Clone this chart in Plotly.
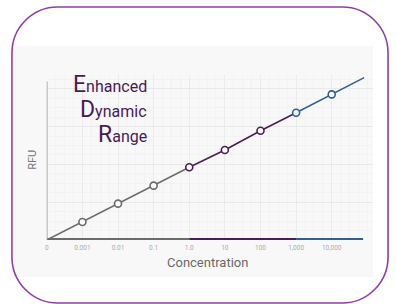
import plotly.graph_objects as go

# ---- data ----
conc_labels = ["0", "0.001", "0.01", "0.1", "1.0", "10", "100", "1,000", "10,000"]
conc_pos = [0, 1, 2, 3, 4, 5, 6, 7, 8]
rfu = [0, 1.0, 2.02, 3.02, 4.04, 5.0, 6.07, 7.07, 8.09]
line_end_pos = 8.91
line_end_rfu = 9.02

seg_names = ["standard", "enhanced", "extended"]
seg_colors = ["#6b6b6b", "#4d1b57", "#2f5f94"]
seg_start = [0, 4, 7]   # index into conc_pos where each range begins
seg_stop = [4, 7, 8]    # index where each range ends
axis_bar_end = 8.88

W, H = 396, 304


def px(x):
    return x / W


def py(y):
    return 1 - y / H


fig = go.Figure()

# colored concentration bar along the x axis
for i in range(3):
    x0 = conc_pos[seg_start[i]]
    x1 = conc_pos[seg_stop[i]] if i < 2 else axis_bar_end
    fig.add_trace(go.Scatter(x=[x0, x1], y=[0, 0], mode="lines",
                             line=dict(color=seg_colors[i], width=4),
                             hoverinfo="skip", showlegend=False, cliponaxis=False))

# response line segments
for i in range(3):
    a, b = seg_start[i], seg_stop[i]
    xs = conc_pos[a:b + 1]
    ys = rfu[a:b + 1]
    if i == 2:
        xs = xs + [line_end_pos]
        ys = ys + [line_end_rfu]
    fig.add_trace(go.Scatter(x=xs, y=ys, mode="lines",
                             line=dict(color=seg_colors[i], width=1.5),
                             showlegend=False, cliponaxis=False))

# markers
mcol = []
for j in range(1, len(conc_pos)):
    if j < 4:
        mcol.append(seg_colors[0])
    elif j < 7:
        mcol.append(seg_colors[1])
    else:
        mcol.append(seg_colors[2])
fig.add_trace(go.Scatter(x=conc_pos[1:], y=rfu[1:], mode="markers",
                         marker=dict(size=7, color="white",
                                     line=dict(color=mcol, width=1.6)),
                         showlegend=False, cliponaxis=False))

xd0, xd1 = 45, 373
yd_bot, yd_top = 240, 75
px_per_x = 35.8
px_per_y = 18.0

fig.update_layout(
    width=W, height=H,
    margin=dict(l=0, r=0, t=0, b=0),
    paper_bgcolor="white", plot_bgcolor="rgba(0,0,0,0)",
    xaxis=dict(domain=[xd0 / W, xd1 / W],
               range=[0, (xd1 - xd0) / px_per_x],
               tickmode="array", tickvals=conc_pos, ticktext=conc_labels,
               tickfont=dict(family="Roboto", size=6.5, color="#ababab"),
               ticks="", ticklabelstandoff=2, showline=False, zeroline=False,
               showgrid=True, gridcolor="#ebebeb", gridwidth=1,
               minor=dict(showgrid=True, gridcolor="#f3f3f3", dtick=0.25),
               fixedrange=True),
    yaxis=dict(domain=[(H - yd_bot) / H, (H - yd_top) / H],
               range=[0, (yd_bot - yd_top) / px_per_y],
               showticklabels=False, ticks="", showline=False, zeroline=False,
               showgrid=True, gridcolor="#e9e9e9", dtick=2.1,
               minor=dict(showgrid=True, gridcolor="#f3f3f3", dtick=0.525),
               fixedrange=True),
)

# light chart background panel
fig.add_shape(type="rect", xref="paper", yref="paper",
              x0=px(12), x1=px(373), y0=py(277), y1=py(46),
              fillcolor="#f8f8f8", line=dict(width=0), layer="below")

# y axis line
fig.add_shape(type="line", xref="x", yref="y", x0=0, x1=0, y0=0, y1=8.8,
              line=dict(color="#9a9a9a", width=1.5), layer="above")

# rounded border
L, T, R, B, r = 10, 7, 388, 303, 46
k = 0.5523 * r


def P(x, y):
    return f"{px(x):.5f},{py(y):.5f}"


path = (f"M {P(L + r, T)} L {P(R - r, T)} "
        f"C {P(R - r + k, T)} {P(R, T + r - k)} {P(R, T + r)} "
        f"L {P(R, B - r)} "
        f"C {P(R, B - r + k)} {P(R - r + k, B)} {P(R - r, B)} "
        f"L {P(L + r, B)} "
        f"C {P(L + r - k, B)} {P(L, B - r + k)} {P(L, B - r)} "
        f"L {P(L, T + r)} "
        f"C {P(L, T + r - k)} {P(L + r - k, T)} {P(L + r, T)} Z")
fig.add_shape(type="path", xref="paper", yref="paper", path=path,
              line=dict(color="#8e3fa3", width=1.6), fillcolor="rgba(0,0,0,0)",
              layer="above")

# title words
title_col = "#4a1a55"
words = [("E", "nhanced", 94), ("D", "ynamic", 119), ("R", "ange", 144)]
for big, rest, base in words:
    fig.add_annotation(xref="paper", yref="paper", x=px(148), y=py(base),
                       xanchor="right", yanchor="bottom", showarrow=False,
                       text=f"<span style='font-size:23px'>{big}</span>{rest}",
                       font=dict(family="Roboto", size=16, color=title_col),
                       yshift=-6)

fig.add_annotation(xref="paper", yref="paper", x=px(30), y=py(160), text="RFU",
                   textangle=-90, showarrow=False,
                   xanchor="center", yanchor="middle",
                   font=dict(family="Roboto", size=11, color="#777777"))
fig.add_annotation(xref="paper", yref="paper", x=px(207), y=py(262),
                   text="Concentration", showarrow=False,
                   xanchor="center", yanchor="middle",
                   font=dict(family="Roboto", size=13, color="#6a6a6a"))

fig.write_html("out.html", config={"displayModeBar": False},
               post_script="document.body.style.margin='0px';"
                           "document.body.style.padding='0px';")
